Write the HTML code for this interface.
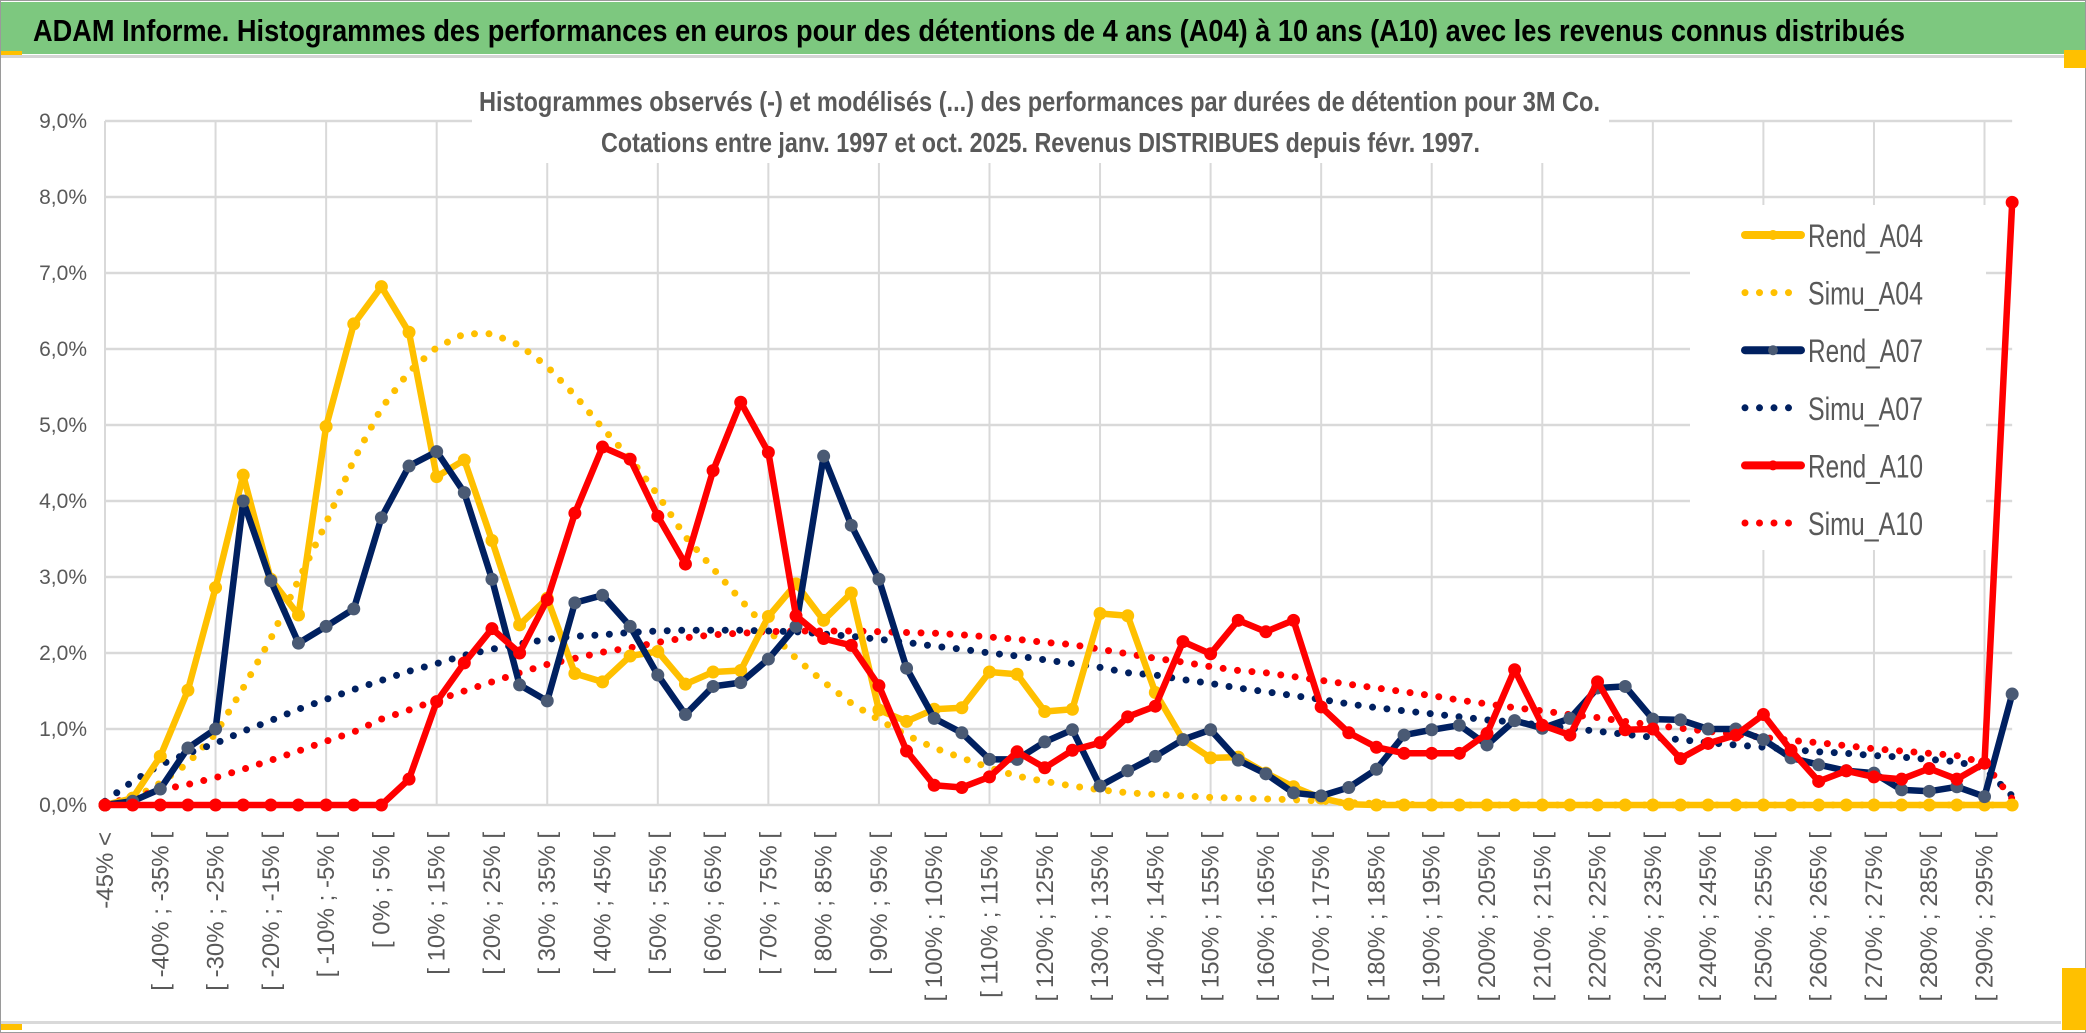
<!DOCTYPE html>
<html><head><meta charset="utf-8"><style>
html,body{margin:0;padding:0;background:#fff}
svg{display:block}
text{font-family:"Liberation Sans Narrow","Liberation Sans",sans-serif}
</style></head><body>
<svg id="chart" width="2086" height="1033" viewBox="0 0 2086 1033" xmlns="http://www.w3.org/2000/svg">
<rect x="0" y="0" width="2086" height="1033" fill="#fff"/>
<rect x="0.5" y="0.5" width="2085" height="1032" fill="none" stroke="#9a9a9a" stroke-width="1"/>
<rect x="1" y="2" width="2084" height="52" fill="#7dc87f"/>
<rect x="1" y="55" width="2084" height="3" fill="#d4d4d4"/>
<rect x="1" y="51" width="21" height="4" fill="#ffc000"/>
<rect x="2064" y="50" width="22" height="18" fill="#ffc000"/>
<rect x="2062" y="968" width="24" height="62" fill="#ffc000"/>
<rect x="1" y="1021" width="2060" height="3" fill="#d9d9d9"/>
<rect x="1" y="1024" width="21" height="6" fill="#ffc000"/>
<text x="33" y="41" font-size="31" font-weight="bold" fill="#000" textLength="1872" lengthAdjust="spacingAndGlyphs">ADAM Informe. Histogrammes des performances en euros pour des détentions de 4 ans (A04) à 10 ans (A10) avec les revenus connus distribués</text>
<g id="grid"></g>
<rect x="472" y="75" width="1137" height="88" fill="#fff"/>
<text x="479" y="111" font-size="28" font-weight="bold" fill="#595959" textLength="1121" lengthAdjust="spacingAndGlyphs">Histogrammes observés (-) et modélisés (...) des performances par durées de détention pour 3M Co.</text>
<text x="601" y="152" font-size="28" font-weight="bold" fill="#595959" textLength="879" lengthAdjust="spacingAndGlyphs">Cotations entre janv. 1997 et oct. 2025. Revenus DISTRIBUES depuis févr. 1997.</text>
<g id="yaxis"></g>
<g id="xaxis"></g>
<g id="series"></g>
<g id="legend"></g>
</svg>
<script>
const categoryCount = 70;
const yTicks = [0,1,2,3,4,5,6,7,8,9];
const yTickLabels = ["0,0%","1,0%","2,0%","3,0%","4,0%","5,0%","6,0%","7,0%","8,0%","9,0%"];
const seriesNames = ["Rend_A04","Simu_A04","Rend_A07","Simu_A07","Rend_A10","Simu_A10"];
const rendA04 = [0,0.09,0.64,1.51,2.86,4.34,2.97,2.5,4.98,6.33,6.82,6.22,4.32,4.54,3.48,2.37,2.72,1.73,1.62,1.96,2.02,1.59,1.75,1.77,2.48,2.91,2.43,2.79,1.25,1.1,1.26,1.28,1.75,1.72,1.23,1.26,2.52,2.49,1.48,0.86,0.62,0.63,0.42,0.24,0.09,0.01,0,0,0,0,0,0,0,0,0,0,0,0,0,0,0,0,0,0,0,0,0,0,0,0];
const simuA04 = [0.02,0.08,0.29,0.55,0.94,1.54,2.19,2.96,3.71,4.54,5.22,5.7,6.02,6.2,6.2,6.05,5.77,5.39,4.96,4.56,4.08,3.53,3.11,2.7,2.3,1.93,1.62,1.34,1.12,0.92,0.75,0.62,0.49,0.38,0.31,0.25,0.2,0.16,0.14,0.12,0.1,0.09,0.08,0.07,0.05,0.03,0.02,0.01,0,0,0,0,0,0,0,0,0,0,0,0,0,0,0,0,0,0,0,0,0,0];
const rendA07 = [0,0.05,0.21,0.75,1.0,4.0,2.95,2.13,2.35,2.58,3.78,4.46,4.65,4.11,2.97,1.58,1.37,2.66,2.76,2.35,1.71,1.19,1.56,1.61,1.92,2.35,4.59,3.68,2.97,1.8,1.14,0.95,0.6,0.6,0.83,0.99,0.25,0.45,0.64,0.86,0.99,0.59,0.41,0.16,0.12,0.23,0.47,0.92,0.99,1.05,0.79,1.11,1.01,1.14,1.54,1.56,1.13,1.12,1.0,1.0,0.86,0.62,0.53,0.45,0.42,0.2,0.18,0.24,0.11,1.46];
const simuA07 = [0.05,0.31,0.53,0.68,0.81,0.97,1.11,1.26,1.39,1.52,1.64,1.76,1.86,1.97,2.05,2.12,2.18,2.22,2.24,2.27,2.29,2.3,2.3,2.3,2.29,2.28,2.25,2.22,2.18,2.14,2.09,2.05,2.0,1.96,1.91,1.86,1.81,1.74,1.71,1.65,1.6,1.54,1.49,1.44,1.39,1.33,1.28,1.24,1.2,1.16,1.12,1.09,1.05,1.01,0.97,0.93,0.89,0.86,0.82,0.79,0.76,0.73,0.7,0.68,0.65,0.63,0.6,0.57,0.48,0.12];
const rendA10 = [0,0,0,0,0,0,0,0,0,0,0,0.34,1.36,1.87,2.32,2.0,2.7,3.84,4.71,4.55,3.8,3.17,4.4,5.3,4.64,2.49,2.19,2.1,1.57,0.71,0.26,0.23,0.37,0.7,0.49,0.72,0.82,1.16,1.3,2.15,1.99,2.43,2.28,2.43,1.29,0.95,0.76,0.68,0.68,0.68,0.94,1.78,1.05,0.92,1.62,0.99,1.0,0.61,0.81,0.92,1.19,0.72,0.31,0.45,0.37,0.34,0.48,0.34,0.55,7.93];
const simuA10 = [0.02,0.09,0.2,0.27,0.36,0.47,0.59,0.71,0.84,0.96,1.13,1.25,1.38,1.5,1.62,1.74,1.85,1.93,2.01,2.07,2.14,2.2,2.24,2.26,2.28,2.29,2.29,2.29,2.28,2.27,2.26,2.24,2.21,2.18,2.14,2.11,2.05,1.99,1.93,1.88,1.82,1.77,1.74,1.69,1.64,1.59,1.54,1.49,1.44,1.38,1.33,1.28,1.24,1.19,1.15,1.1,1.05,1.01,0.97,0.93,0.89,0.85,0.82,0.78,0.74,0.71,0.68,0.65,0.55,0.08];

const NS = "http://www.w3.org/2000/svg";
const X0 = 105, XSTEP = 27.64, Y0 = 805, YUNIT = 76;
function xPos(i){ return X0 + i*XSTEP; }
function yPos(v){ return Y0 - v*YUNIT; }
function mk(tag, attrs, parent){ const e=document.createElementNS(NS,tag); for(const k in attrs) e.setAttribute(k, attrs[k]); parent.appendChild(e); return e; }
function catLabel(i){ if(i===0) return "-45% <"; const a=-50+5*i, b=-45+5*i; return "[ "+a+"% ; "+b+"% ["; }

const grid = document.getElementById('grid');
const xRight = xPos(categoryCount-1);
yTicks.forEach(function(t){
  const l = mk('line',{x1:X0,x2:xRight,y1:yPos(t),y2:yPos(t),stroke:'#d9d9d9','stroke-width':2.5},grid);
  
  
});
for(let i=0;i<categoryCount;i+=4){
  const l = mk('line',{x1:xPos(i),x2:xPos(i),y1:yPos(9),y2:yPos(0),stroke:'#d9d9d9','stroke-width':2},grid);
  
  
}
const lgBg = mk('rect',{x:1690,y:205,width:296,height:345,fill:'#fff'},grid);



const yaxis = document.getElementById('yaxis');
yTicks.forEach(function(t,k){
  const tx = mk('text',{x:87,y:yPos(t)+7,'text-anchor':'end','font-size':21,fill:'#595959'},yaxis);
  tx.textContent = yTickLabels[k];
  
  
});

const xaxis = document.getElementById('xaxis');
for(let i=0;i<categoryCount;i+=2){
  const px = xPos(i)+8, py = 832;
  const tx = mk('text',{x:px,y:py,'text-anchor':'end','font-size':24,fill:'#595959',transform:'rotate(-90 '+px+' '+py+')',style:'font-family:"Liberation Sans",sans-serif'},xaxis);
  tx.textContent = catLabel(i);
  
  
}

const series = document.getElementById('series');
function ptsOf(arr){ return arr.map(function(v,i){ return xPos(i).toFixed(1)+','+yPos(v).toFixed(1); }).join(' '); }
function dotted(arr,color,name){
  const p = mk('polyline',{points:ptsOf(arr),fill:'none',stroke:color,'stroke-width':7,'stroke-linecap':'round','stroke-dasharray':'0 14.5'},series);
  
  
}
function solid(arr,color,markerFill,name){
  const g = mk('g',{},series);
  
  
  const p = mk('polyline',{points:ptsOf(arr),fill:'none',stroke:color,'stroke-width':6.5,'stroke-linejoin':'round','stroke-linecap':'round'},g);
  
  
  arr.forEach(function(v,i){
    const c = mk('circle',{cx:xPos(i),cy:yPos(v),r:6,fill:markerFill,stroke:markerFill,'stroke-width':1},g);
    
    
  });
}
dotted(simuA04,'#ffc000','simu-a04');
dotted(simuA07,'#002060','simu-a07');
dotted(simuA10,'#ff0000','simu-a10');
solid(rendA04,'#ffc000','#ffc000','rend-a04');
solid(rendA07,'#002060','#4a5a74','rend-a07');
solid(rendA10,'#ff0000','#ff0000','rend-a10');

const legend = document.getElementById('legend');
const lgColors = ['#ffc000','#ffc000','#002060','#002060','#ff0000','#ff0000'];
const lgMarker = ['#ffc000',null,'#4a5a74',null,'#ff0000',null];
seriesNames.forEach(function(nm,k){
  const cy = 235 + k*57.6;
  const g = mk('g',{},legend);
  
  
  if(lgMarker[k]){
    mk('line',{x1:1745,x2:1801,y1:cy,y2:cy,stroke:lgColors[k],'stroke-width':8,'stroke-linecap':'round'},g);
    mk('circle',{cx:1773,cy:cy,r:5,fill:lgMarker[k]},g);
  } else {
    mk('line',{x1:1745,x2:1803,y1:cy,y2:cy,stroke:lgColors[k],'stroke-width':7,'stroke-linecap':'round','stroke-dasharray':'0 14.5'},g);
  }
  const tx = mk('text',{x:1808,y:cy+12,'font-size':32,fill:'#595959',textLength:115,lengthAdjust:'spacingAndGlyphs'},g);
  tx.textContent = nm;
  
  
});
</script>
</body></html>
